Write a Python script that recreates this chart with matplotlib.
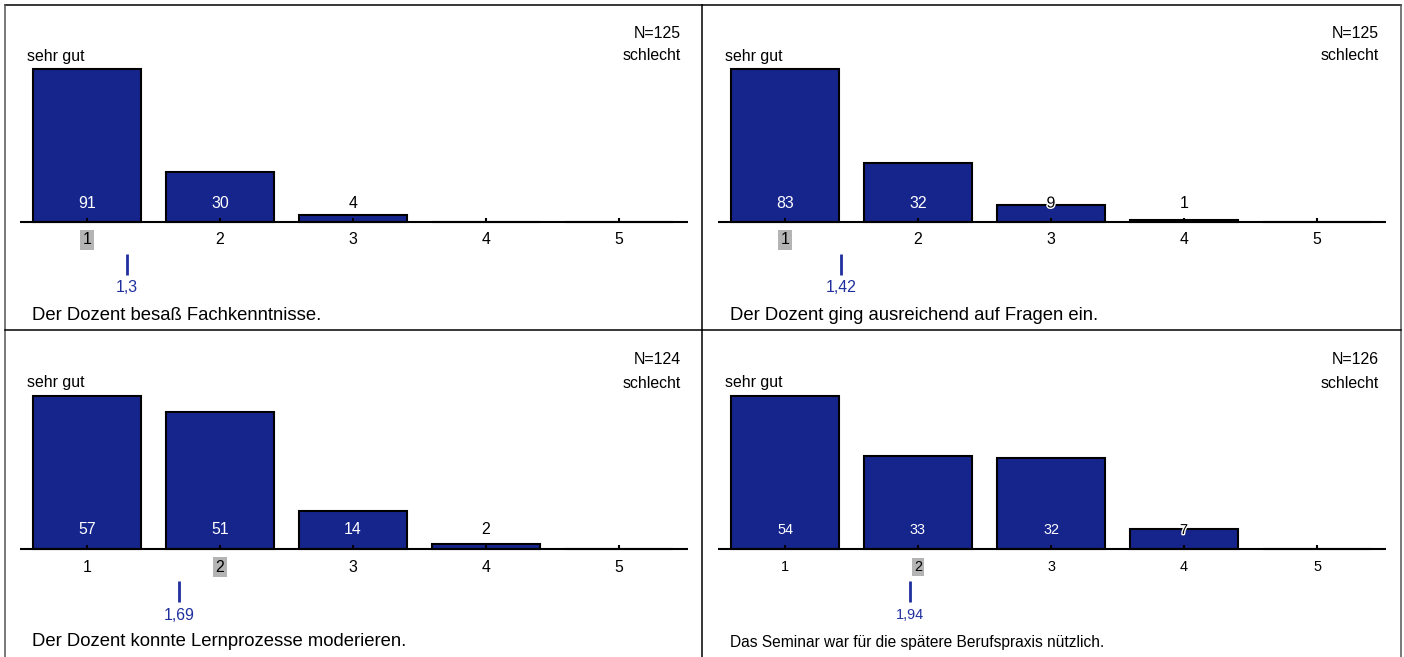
import matplotlib
matplotlib.use('Agg')
import matplotlib.pyplot as plt
import matplotlib.patheffects as pe
from matplotlib import font_manager
from matplotlib.lines import Line2D
import numpy as np

plt.rcParams['font.family'] = ['Liberation Sans', 'DejaVu Sans']

# Daten
categories = [1, 2, 3, 4, 5]
questions = ['Der Dozent besaß Fachkenntnisse.',
             'Der Dozent ging ausreichend auf Fragen ein.',
             'Der Dozent konnte Lernprozesse moderieren.',
             'Das Seminar war für die spätere Berufspraxis nützlich.']
counts_1 = [91, 30, 4, 0, 0]
counts_2 = [83, 32, 9, 1, 0]
counts_3 = [57, 51, 14, 2, 0]
counts_4 = [54, 33, 32, 7, 0]
all_counts = [counts_1, counts_2, counts_3, counts_4]
n_values = [125, 125, 124, 126]
mean_values = [1.3, 1.42, 1.69, 1.94]
mean_labels = ['1,3', '1,42', '1,69', '1,94']
left_label = 'sehr gut'
right_label = 'schlecht'

W, H = 1404, 657
bar_color = '#15258c'
mean_color = '#1f2f9e'


def has_font(name):
    try:
        font_manager.findfont(name, fallback_to_default=False)
        return True
    except ValueError:
        return False


narrow_ok = has_font('Liberation Sans Narrow')

fig = plt.figure(figsize=(W / 100, H / 100), dpi=100)

# Geometrie eines Panels in Pixeln (oben links)
ax_left, ax_right, ax_top, ax_bot = 20, 688, 10, 322
axis_y = 222
bar_px = 153          # Höhe des höchsten Balkens
step_px = 133         # Abstand der Kategorien
c1_px = 87            # Mitte von Kategorie 1

offsets = [(0, 0), (698, 0), (0, 327), (698, 327)]


def px_x(px):
    return (px - c1_px) / step_px + 1


def px_y(py):
    return (axis_y - py) / bar_px


for i, (dx, dy) in enumerate(offsets):
    ax = fig.add_axes([(ax_left + dx) / W, 1 - (ax_bot + dy) / H,
                       (ax_right - ax_left) / W, (ax_bot - ax_top) / H])
    xmin, xmax = px_x(ax_left), px_x(ax_right)
    ax.set_xlim(xmin, xmax)
    ax.set_ylim(px_y(ax_bot), px_y(ax_top))
    ax.axis('off')

    counts = np.array(all_counts[i])
    heights = counts / counts.max()

    # das letzte Panel ist im Original schmaler gesetzt
    if i == 3:
        fam = ['Liberation Sans Narrow', 'Liberation Sans'] if narrow_ok else ['Liberation Sans']
        fs_small = 10.4
        fs_title = 11.7 if narrow_ok else 11.2
    else:
        fam = ['Liberation Sans', 'DejaVu Sans']
        fs_small = 11.4
        fs_title = 13.3

    ax.bar(categories, heights, width=0.812, color=bar_color,
           edgecolor='black', linewidth=1.5, zorder=2)
    ax.plot([xmin, xmax], [0, 0], color='black', lw=1.5, zorder=3,
            solid_capstyle='butt')
    ax.vlines(categories, 0, 4 / bar_px, color='black', lw=1.5, zorder=3)

    # Anzahlen
    for c, h, n in zip(categories, heights, counts):
        if n == 0:
            continue
        hp = h * bar_px
        if hp > 26:
            ax.text(c, px_y(203), str(n), ha='center', va='center',
                    color='white', fontsize=fs_small, family=fam, zorder=4)
        elif hp < 12:
            ax.text(c, px_y(203), str(n), ha='center', va='center',
                    color='black', fontsize=fs_small, family=fam, zorder=4)
        else:
            ax.text(c, px_y(203), str(n), ha='center', va='center',
                    color='black', fontsize=fs_small, family=fam, zorder=4,
                    path_effects=[pe.withStroke(linewidth=2, foreground='white')])

    # Median
    cum = np.cumsum(counts)
    median = categories[int(np.searchsorted(cum, counts.sum() / 2))]

    for c in categories:
        kw = {}
        if c == median:
            kw['bbox'] = dict(boxstyle='square,pad=0.15', facecolor='#b4b4b4',
                              edgecolor='none')
        ax.text(c, px_y(240), str(c), ha='center', va='center',
                color='black', fontsize=fs_small, family=fam, **kw)

    # Mittelwert
    ax.vlines(mean_values[i], px_y(275), px_y(254), color=mean_color, lw=2)
    ax.text(mean_values[i], px_y(288), mean_labels[i], ha='center',
            va='center', color=mean_color, fontsize=fs_small, family=fam)

    ax.text(px_x(27), px_y(56), left_label, ha='left', va='center',
            fontsize=11.4)
    ax.text(px_x(681), px_y(56), right_label, ha='right', va='center',
            fontsize=11.4)
    ax.text(px_x(681), px_y(33), 'N=%d' % n_values[i], ha='right',
            va='center', fontsize=11.4)
    ax.text(px_x(32), px_y(315), questions[i], ha='left', va='center',
            fontsize=fs_title, family=fam)

# Rahmen
def fline(x0, y0, x1, y1, color='black'):
    fig.add_artist(Line2D([x0 / W, x1 / W], [1 - y0 / H, 1 - y1 / H],
                          color=color, lw=1.1))


fline(5, 5, 1401, 5)
fline(5, 5, 5, H, color='#555555')
fline(1401, 5, 1401, H, color='#555555')
fline(702, 5, 702, H)
fline(5, 330, 1401, 330)

fig.savefig('out.png', dpi=100)
